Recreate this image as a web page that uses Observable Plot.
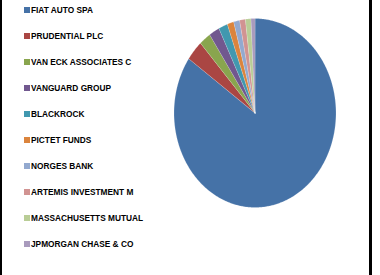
<!DOCTYPE html>
<html>
<head>
<meta charset="utf-8">
<script src="https://cdn.jsdelivr.net/npm/d3@7"></script>
<script src="https://cdn.jsdelivr.net/npm/@observablehq/plot@0.6"></script>
<style>
  html, body { margin: 0; padding: 0; background: #fff; }
  #wrap { position: relative; width: 380px; height: 275px; overflow: hidden; }
  #chart { position: absolute; left: 0; top: 0; }
  #legend { position: absolute; left: 24px; top: -3px; font-family: "Liberation Sans", Arial, sans-serif; font-weight: bold; font-size: 8.3px; color: #000; }
  .item { height: 26.0px; display: flex; align-items: center; white-space: nowrap; }
  .sw { width: 6px; height: 6px; margin-right: 1px; flex: none; }
  .bl { position: absolute; top: 0; height: 275px; background: #000; }
</style>
</head>
<body>
<div id="wrap">
  <div id="chart"></div>
  <div id="legend"></div>
  <div class="bl" style="left:0;width:2px"></div>
  <div class="bl" style="left:369px;width:3px"></div>
</div>
<script>
const holders = ["FIAT AUTO SPA", "PRUDENTIAL PLC", "VAN ECK ASSOCIATES C", "VANGUARD GROUP", "BLACKROCK",
  "PICTET FUNDS", "NORGES BANK", "ARTEMIS INVESTMENT M", "MASSACHUSETTS MUTUAL", "JPMORGAN CHASE & CO"];
const shares = [84.7, 3.5, 2.3, 2.1, 1.8, 1.3, 1.2, 1.15, 1.1, 0.8];
const colors = ["#4572A7", "#AA4643", "#89A54E", "#71588F", "#4198AF", "#DB843D", "#93A9CF", "#D19392", "#B9CD96", "#A99BBD"];

const data = holders.map((name, i) => ({name, value: shares[i], color: colors[i]}));
const arcs = d3.pie().sort(null).value(d => d.value)(data);

const pts = [];
arcs.forEach(a => {
  pts.push({name: a.data.name, color: a.data.color, px: 0, py: 0});
  const n = Math.max(2, Math.ceil((a.endAngle - a.startAngle) / 0.01));
  for (let k = 0; k <= n; k++) {
    const t = a.startAngle + (a.endAngle - a.startAngle) * k / n;
    pts.push({name: a.data.name, color: a.data.color, px: Math.sin(t), py: Math.cos(t)});
  }
});

const chart = Plot.plot({
  width: 380,
  height: 275,
  margin: 0,
  x: {domain: [-1, 1], range: [173.5, 335.5], axis: null},
  y: {domain: [-1, 1], range: [207, 18], axis: null},
  marks: [
    Plot.line(pts, {x: "px", y: "py", z: "name", fill: "color", stroke: "#ffffff", strokeWidth: 0.3, strokeOpacity: 0.6, curve: "linear-closed"})
  ]
});
document.getElementById("chart").appendChild(chart);

const leg = document.getElementById("legend");
data.forEach(d => {
  const row = document.createElement("div");
  row.className = "item";
  row.innerHTML = `<span class="sw" style="background:${d.color}"></span><span>${d.name.replace(/&/g, "&amp;")}</span>`;
  leg.appendChild(row);
});
</script>
</body>
</html>
